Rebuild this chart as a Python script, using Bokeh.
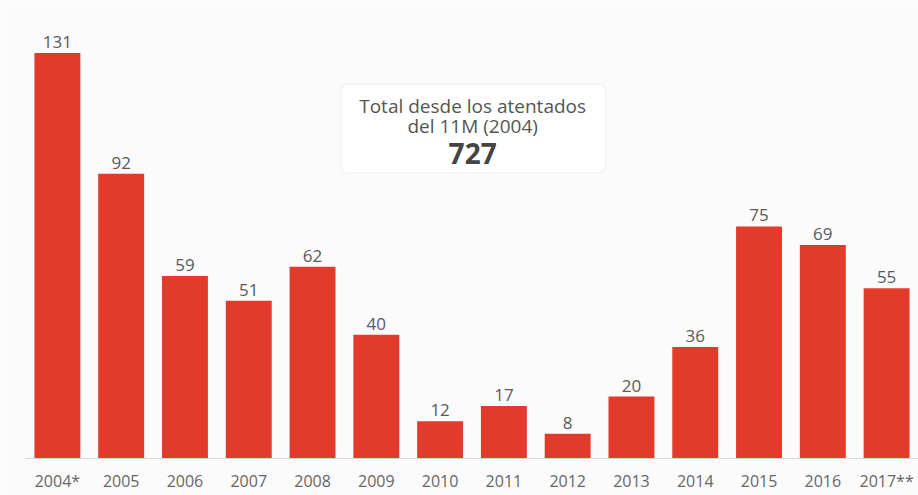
from bokeh.plotting import figure
from bokeh.models import ColumnDataSource, Range1d, BoxAnnotation, Label
from bokeh.embed import file_html
from bokeh.resources import INLINE
from bokeh.core.properties import value

years = ["2004*", "2005", "2006", "2007", "2008", "2009", "2010", "2011",
         "2012", "2013", "2014", "2015", "2016", "2017**"]
counts = [131, 92, 59, 51, 62, 40, 12, 17, 8, 20, 36, 75, 69, 55]
total_label = "727"

src = ColumnDataSource(dict(x=years, y=counts, t=[str(c) for c in counts]))

p = figure(x_range=years, y_range=Range1d(0, 148), width=918, height=495,
           output_backend="svg", toolbar_location=None,
           min_border_left=25, min_border_right=0, min_border_top=0, min_border_bottom=37,
           background_fill_color="#fbfbfb", border_fill_color="#fbfbfb",
           outline_line_color=None)
p.x_range.range_padding = 0

p.vbar(x="x", top="y", width=0.72, source=src, fill_color="#e23b2c", line_color=None)
p.text(x="x", y="y", text="t", source=src, text_align="center", text_baseline="bottom",
       y_offset=-5, text_font=value("Open Sans"), text_font_size="17px", text_color="#5a5a5a")

p.yaxis.visible = False
p.grid.visible = False
xa = p.xaxis[0]
xa.axis_line_color = "#cfd8dc"
xa.major_tick_line_color = None
xa.minor_tick_line_color = None
xa.major_label_text_font = "Open Sans"
xa.major_label_text_font_size = "16px"
xa.major_label_text_color = "#666666"
xa.major_label_standoff = 5

box = BoxAnnotation(left=4.94, right=9.10, bottom=92.3, top=121.0,
                    fill_color="white", fill_alpha=1, line_color="#dddddd", line_width=1.5,
                    border_radius=8)
p.add_layout(box)
p.add_layout(Label(x=7.01, y=113.9, text="Total desde los atentados", text_align="center",
                   text_baseline="middle", text_font="Open Sans", text_font_size="19px",
                   text_color="#555555"))
p.add_layout(Label(x=7.01, y=107.4, text="del 11M (2004)", text_align="center",
                   text_baseline="middle", text_font="Open Sans", text_font_size="19px",
                   text_color="#555555"))
p.add_layout(Label(x=7.01, y=98.7, text=total_label, text_align="center",
                   text_baseline="middle", text_font="Open Sans", text_font_size="28px",
                   text_font_style="bold", text_color="#444444"))

open("out.html", "w").write(file_html(p, INLINE))
